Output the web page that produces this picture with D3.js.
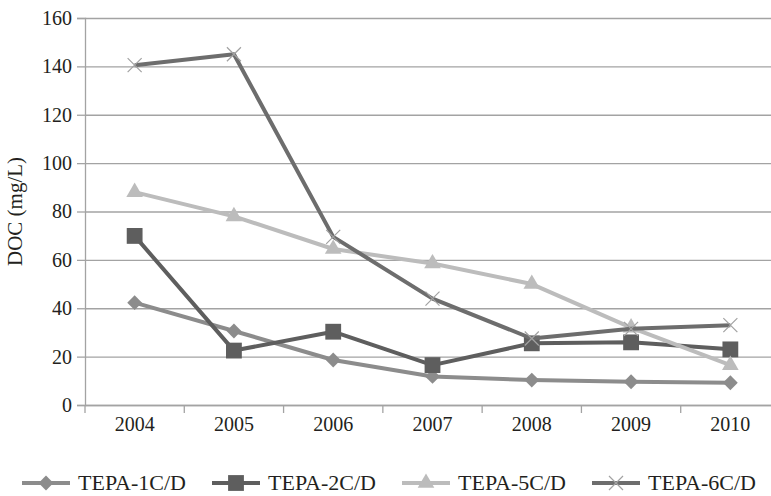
<!DOCTYPE html>
<html>
<head>
<meta charset="utf-8">
<script src="https://cdn.jsdelivr.net/npm/d3@7"></script>
<style>
body { margin: 0; background: #fff; }
text { font-family: "Liberation Serif", "DejaVu Serif", serif; fill: #231f20; }
</style>
</head>
<body>
<script>
var width = 771;
var height = 496;

// data
var years = ["2004", "2005", "2006", "2007", "2008", "2009", "2010"];
var tepa1 = [42.3, 30.6, 18.6, 11.8, 10.3, 9.6, 9.2];
var tepa2 = [69.9, 22.5, 30.3, 16.5, 25.5, 25.9, 23];
var tepa5 = [88, 78, 64.5, 58.5, 50, 32, 16.5];
var tepa6 = [140.5, 145, 69.5, 44, 27.5, 31.5, 33];
var seriesNames = ["TEPA-1C/D", "TEPA-2C/D", "TEPA-5C/D", "TEPA-6C/D"];
var yTicks = [0, 20, 40, 60, 80, 100, 120, 140, 160];

var series = [
  { name: seriesNames[0], values: tepa1, color: "#8c8c8c", shape: "diamond" },
  { name: seriesNames[1], values: tepa2, color: "#5e5e5e", shape: "square" },
  { name: seriesNames[2], values: tepa5, color: "#bcbcbc", shape: "triangle" },
  { name: seriesNames[3], values: tepa6, color: "#6d6d6d", shape: "x" }
];

var svg = d3.select("body")
  .append("svg")
  .attr("width", width)
  .attr("height", height);

var x = d3.scaleBand()
  .domain(years)
  .range([85, 780]);

var y = d3.scaleLinear()
  .domain([0, 160])
  .range([405, 18]);

var gridColor = "#a3a3a3";

// gridlines
var grid = svg.append("g")
  .attr("transform", "translate(85,0)")
  .call(d3.axisRight(y).tickValues(yTicks).tickSize(700).tickFormat(""));
grid.select(".domain").remove();
grid.selectAll("line").attr("stroke", gridColor).attr("stroke-width", 1.3);

// y axis
var yAxis = svg.append("g")
  .attr("transform", "translate(85,0)")
  .call(d3.axisLeft(y).tickValues(yTicks).tickSize(8).tickPadding(5));
yAxis.select(".domain").attr("stroke", gridColor).attr("stroke-width", 1.3);
yAxis.selectAll("line").attr("stroke", gridColor).attr("stroke-width", 1.3);
yAxis.selectAll("text").style("font-size", "20px").attr("fill", "#231f20");

// x axis
var xAxis = svg.append("g")
  .attr("transform", "translate(0,405)")
  .call(d3.axisBottom(x).tickSize(0).tickPadding(12));
xAxis.select(".domain").attr("stroke", gridColor).attr("stroke-width", 1.3);
xAxis.selectAll("text").style("font-size", "20px").attr("fill", "#231f20");

// boundary ticks between categories
svg.append("g").selectAll("line")
  .data(years)
  .enter()
  .append("line")
  .attr("x1", function(d) { return x(d); })
  .attr("x2", function(d) { return x(d); })
  .attr("y1", 405)
  .attr("y2", 413)
  .attr("stroke", gridColor)
  .attr("stroke-width", 1.3);

// y title
svg.append("text")
  .attr("transform", "translate(22," + ((18 + 405) / 2) + ") rotate(-90)")
  .attr("text-anchor", "middle")
  .style("font-size", "21px")
  .text("DOC (mg/L)");

function markerPath(shape) {
  if (shape == "diamond") return d3.symbol(d3.symbolSquare, 110)();
  if (shape == "square") return d3.symbol(d3.symbolSquare, 250)();
  if (shape == "triangle") return d3.symbol(d3.symbolTriangle, 120)();
  return d3.symbol(d3.symbolX, 130)();
}

function drawMarker(g, s, cx, cy) {
  var p = g.append("path")
    .attr("d", markerPath(s.shape))
    .attr("transform", "translate(" + cx + "," + cy + ")" + (s.shape == "diamond" ? " rotate(45)" : ""));
  if (s.shape == "x") {
    p.attr("fill", "none").attr("stroke", "#a2a2a2").attr("stroke-width", 1.2);
  } else {
    p.attr("fill", s.color).attr("stroke", "none");
  }
}

var line = d3.line()
  .x(function(d, i) { return x(years[i]) + x.bandwidth() / 2; })
  .y(function(d) { return y(d); });

series.forEach(function(s) {
  var g = svg.append("g");
  g.append("path")
    .attr("d", line(s.values))
    .attr("fill", "none")
    .attr("stroke", s.color)
    .attr("stroke-width", 4)
    .attr("stroke-linejoin", "round");
  s.values.forEach(function(v, i) {
    drawMarker(g, s, x(years[i]) + x.bandwidth() / 2, y(v));
  });
});

// legend
var legendX = [22, 212, 402, 592];
series.forEach(function(s, i) {
  var g = svg.append("g").attr("transform", "translate(" + legendX[i] + ",483)");
  g.append("line")
    .attr("x1", 0).attr("x2", 48)
    .attr("y1", 0).attr("y2", 0)
    .attr("stroke", s.color)
    .attr("stroke-width", 4);
  drawMarker(g, s, 24, 0);
  g.append("text")
    .attr("x", 56)
    .attr("y", 7)
    .style("font-size", "22px")
    .text(s.name);
});
</script>
</body>
</html>
